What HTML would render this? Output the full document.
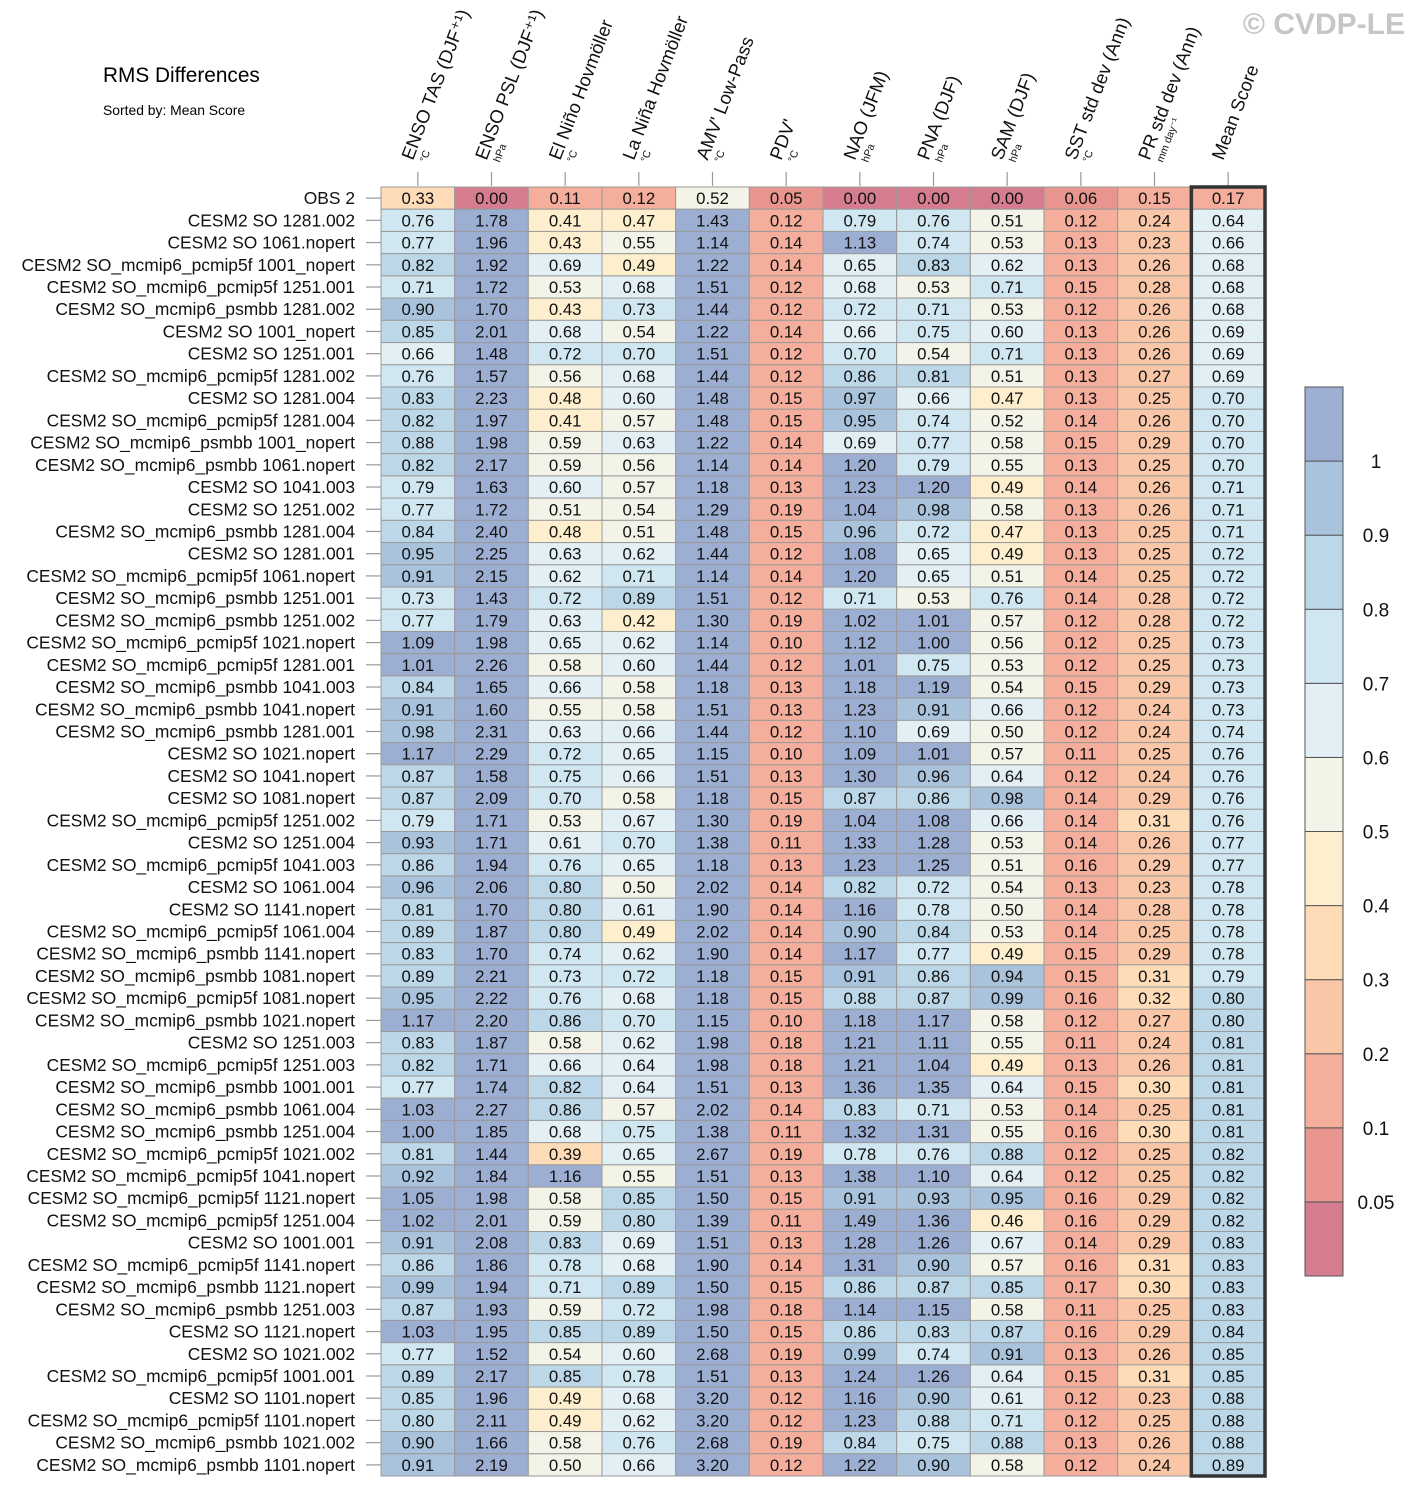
<!DOCTYPE html>
<html><head><meta charset="utf-8"><style>
body{margin:0;background:#fff;}
svg{display:block;font-family:"Liberation Sans",Arial,sans-serif;}
</style></head><body>
<svg id="chart" width="1416" height="1498" viewBox="0 0 1416 1498" xmlns="http://www.w3.org/2000/svg">
<text x="103" y="82" font-size="20.8">RMS Differences</text>
<text x="103" y="115" font-size="13.9">Sorted by: Mean Score</text>
<text x="1405" y="34" font-size="30" font-weight="bold" fill="#c6c6c6" text-anchor="end">© CVDP-LE</text>
<g id="headers"></g><g id="cells"></g><g id="rowlabels"></g><g id="cbar"></g>
</svg>
<script>
const metrics=["ENSO TAS (DJF⁺¹)","ENSO PSL (DJF⁺¹)","El Niño Hovmöller","La Niña Hovmöller","AMV' Low-Pass","PDV'","NAO (JFM)","PNA (DJF)","SAM (DJF)","SST std dev (Ann)","PR std dev (Ann)","Mean Score"];
const units=["°C","hPa","°C","°C","°C","°C","hPa","hPa","hPa","°C","mm day⁻¹",""];
const runs=["OBS 2","CESM2 SO 1281.002","CESM2 SO 1061.nopert","CESM2 SO_mcmip6_pcmip5f 1001_nopert","CESM2 SO_mcmip6_pcmip5f 1251.001","CESM2 SO_mcmip6_psmbb 1281.002","CESM2 SO 1001_nopert","CESM2 SO 1251.001","CESM2 SO_mcmip6_pcmip5f 1281.002","CESM2 SO 1281.004","CESM2 SO_mcmip6_pcmip5f 1281.004","CESM2 SO_mcmip6_psmbb 1001_nopert","CESM2 SO_mcmip6_psmbb 1061.nopert","CESM2 SO 1041.003","CESM2 SO 1251.002","CESM2 SO_mcmip6_psmbb 1281.004","CESM2 SO 1281.001","CESM2 SO_mcmip6_pcmip5f 1061.nopert","CESM2 SO_mcmip6_psmbb 1251.001","CESM2 SO_mcmip6_psmbb 1251.002","CESM2 SO_mcmip6_pcmip5f 1021.nopert","CESM2 SO_mcmip6_pcmip5f 1281.001","CESM2 SO_mcmip6_psmbb 1041.003","CESM2 SO_mcmip6_psmbb 1041.nopert","CESM2 SO_mcmip6_psmbb 1281.001","CESM2 SO 1021.nopert","CESM2 SO 1041.nopert","CESM2 SO 1081.nopert","CESM2 SO_mcmip6_pcmip5f 1251.002","CESM2 SO 1251.004","CESM2 SO_mcmip6_pcmip5f 1041.003","CESM2 SO 1061.004","CESM2 SO 1141.nopert","CESM2 SO_mcmip6_pcmip5f 1061.004","CESM2 SO_mcmip6_psmbb 1141.nopert","CESM2 SO_mcmip6_psmbb 1081.nopert","CESM2 SO_mcmip6_pcmip5f 1081.nopert","CESM2 SO_mcmip6_psmbb 1021.nopert","CESM2 SO 1251.003","CESM2 SO_mcmip6_pcmip5f 1251.003","CESM2 SO_mcmip6_psmbb 1001.001","CESM2 SO_mcmip6_psmbb 1061.004","CESM2 SO_mcmip6_psmbb 1251.004","CESM2 SO_mcmip6_pcmip5f 1021.002","CESM2 SO_mcmip6_pcmip5f 1041.nopert","CESM2 SO_mcmip6_pcmip5f 1121.nopert","CESM2 SO_mcmip6_pcmip5f 1251.004","CESM2 SO 1001.001","CESM2 SO_mcmip6_pcmip5f 1141.nopert","CESM2 SO_mcmip6_psmbb 1121.nopert","CESM2 SO_mcmip6_psmbb 1251.003","CESM2 SO 1121.nopert","CESM2 SO 1021.002","CESM2 SO_mcmip6_pcmip5f 1001.001","CESM2 SO 1101.nopert","CESM2 SO_mcmip6_pcmip5f 1101.nopert","CESM2 SO_mcmip6_psmbb 1021.002","CESM2 SO_mcmip6_psmbb 1101.nopert"];
const values=[
[.33,0,.11,.12,.52,.05,0,0,0,.06,.15,.17],
[.76,1.78,.41,.47,1.43,.12,.79,.76,.51,.12,.24,.64],
[.77,1.96,.43,.55,1.14,.14,1.13,.74,.53,.13,.23,.66],
[.82,1.92,.69,.49,1.22,.14,.65,.83,.62,.13,.26,.68],
[.71,1.72,.53,.68,1.51,.12,.68,.53,.71,.15,.28,.68],
[.90,1.70,.43,.73,1.44,.12,.72,.71,.53,.12,.26,.68],
[.85,2.01,.68,.54,1.22,.14,.66,.75,.60,.13,.26,.69],
[.66,1.48,.72,.70,1.51,.12,.70,.54,.71,.13,.26,.69],
[.76,1.57,.56,.68,1.44,.12,.86,.81,.51,.13,.27,.69],
[.83,2.23,.48,.60,1.48,.15,.97,.66,.47,.13,.25,.70],
[.82,1.97,.41,.57,1.48,.15,.95,.74,.52,.14,.26,.70],
[.88,1.98,.59,.63,1.22,.14,.69,.77,.58,.15,.29,.70],
[.82,2.17,.59,.56,1.14,.14,1.20,.79,.55,.13,.25,.70],
[.79,1.63,.60,.57,1.18,.13,1.23,1.20,.49,.14,.26,.71],
[.77,1.72,.51,.54,1.29,.19,1.04,.98,.58,.13,.26,.71],
[.84,2.40,.48,.51,1.48,.15,.96,.72,.47,.13,.25,.71],
[.95,2.25,.63,.62,1.44,.12,1.08,.65,.49,.13,.25,.72],
[.91,2.15,.62,.71,1.14,.14,1.20,.65,.51,.14,.25,.72],
[.73,1.43,.72,.89,1.51,.12,.71,.53,.76,.14,.28,.72],
[.77,1.79,.63,.42,1.30,.19,1.02,1.01,.57,.12,.28,.72],
[1.09,1.98,.65,.62,1.14,.10,1.12,1.00,.56,.12,.25,.73],
[1.01,2.26,.58,.60,1.44,.12,1.01,.75,.53,.12,.25,.73],
[.84,1.65,.66,.58,1.18,.13,1.18,1.19,.54,.15,.29,.73],
[.91,1.60,.55,.58,1.51,.13,1.23,.91,.66,.12,.24,.73],
[.98,2.31,.63,.66,1.44,.12,1.10,.69,.50,.12,.24,.74],
[1.17,2.29,.72,.65,1.15,.10,1.09,1.01,.57,.11,.25,.76],
[.87,1.58,.75,.66,1.51,.13,1.30,.96,.64,.12,.24,.76],
[.87,2.09,.70,.58,1.18,.15,.87,.86,.98,.14,.29,.76],
[.79,1.71,.53,.67,1.30,.19,1.04,1.08,.66,.14,.31,.76],
[.93,1.71,.61,.70,1.38,.11,1.33,1.28,.53,.14,.26,.77],
[.86,1.94,.76,.65,1.18,.13,1.23,1.25,.51,.16,.29,.77],
[.96,2.06,.80,.50,2.02,.14,.82,.72,.54,.13,.23,.78],
[.81,1.70,.80,.61,1.90,.14,1.16,.78,.50,.14,.28,.78],
[.89,1.87,.80,.49,2.02,.14,.90,.84,.53,.14,.25,.78],
[.83,1.70,.74,.62,1.90,.14,1.17,.77,.49,.15,.29,.78],
[.89,2.21,.73,.72,1.18,.15,.91,.86,.94,.15,.31,.79],
[.95,2.22,.76,.68,1.18,.15,.88,.87,.99,.16,.32,.80],
[1.17,2.20,.86,.70,1.15,.10,1.18,1.17,.58,.12,.27,.80],
[.83,1.87,.58,.62,1.98,.18,1.21,1.11,.55,.11,.24,.81],
[.82,1.71,.66,.64,1.98,.18,1.21,1.04,.49,.13,.26,.81],
[.77,1.74,.82,.64,1.51,.13,1.36,1.35,.64,.15,.30,.81],
[1.03,2.27,.86,.57,2.02,.14,.83,.71,.53,.14,.25,.81],
[1.00,1.85,.68,.75,1.38,.11,1.32,1.31,.55,.16,.30,.81],
[.81,1.44,.39,.65,2.67,.19,.78,.76,.88,.12,.25,.82],
[.92,1.84,1.16,.55,1.51,.13,1.38,1.10,.64,.12,.25,.82],
[1.05,1.98,.58,.85,1.50,.15,.91,.93,.95,.16,.29,.82],
[1.02,2.01,.59,.80,1.39,.11,1.49,1.36,.46,.16,.29,.82],
[.91,2.08,.83,.69,1.51,.13,1.28,1.26,.67,.14,.29,.83],
[.86,1.86,.78,.68,1.90,.14,1.31,.90,.57,.16,.31,.83],
[.99,1.94,.71,.89,1.50,.15,.86,.87,.85,.17,.30,.83],
[.87,1.93,.59,.72,1.98,.18,1.14,1.15,.58,.11,.25,.83],
[1.03,1.95,.85,.89,1.50,.15,.86,.83,.87,.16,.29,.84],
[.77,1.52,.54,.60,2.68,.19,.99,.74,.91,.13,.26,.85],
[.89,2.17,.85,.78,1.51,.13,1.24,1.26,.64,.15,.31,.85],
[.85,1.96,.49,.68,3.20,.12,1.16,.90,.61,.12,.23,.88],
[.80,2.11,.49,.62,3.20,.12,1.23,.88,.71,.12,.25,.88],
[.90,1.66,.58,.76,2.68,.19,.84,.75,.88,.13,.26,.88],
[.91,2.19,.50,.66,3.20,.12,1.22,.90,.58,.12,.24,.89]];
const levels=[0.05,0.1,0.2,0.3,0.4,0.5,0.6,0.7,0.8,0.9,1];
const levelLabels=["0.05","0.1","0.2","0.3","0.4","0.5","0.6","0.7","0.8","0.9","1"];
const palette=["#d57d8e","#e8958f","#f4ae9b","#f9c7a8","#fddcb7","#fdeecd","#f3f3e8","#e2eff4","#d0e6f0","#bcd7e8","#a9c3dd","#9daed3"];

const NS="http://www.w3.org/2000/svg";
const X0=381,X1=1265,Y0=187,Y1=1476;
const cw=(X1-X0)/metrics.length, rh=(Y1-Y0)/runs.length;
const xPos=i=>X0+i*cw, yPos=j=>Y0+j*rh;
function colorOf(v){let k=0;while(k<levels.length&&v>=levels[k]-1e-9)k++;return palette[k];}
function mk(tag,attrs,parent){const e=document.createElementNS(NS,tag);for(const a in attrs)e.setAttribute(a,attrs[a]);parent.appendChild(e);return e;}

const cells=document.getElementById('cells');
values.forEach((row,j)=>row.forEach((v,i)=>{
  const r=mk('rect',{x:xPos(i),y:yPos(j),width:cw,height:rh,fill:colorOf(v),stroke:'#9a9a9a','stroke-width':1},cells);
  
  
  const t=mk('text',{x:xPos(i)+cw/2,y:yPos(j)+rh/2+6,'font-size':16.8,'text-anchor':'middle',fill:'#111'},cells);
  t.textContent=v.toFixed(2);
  
  
}));
const box=mk('rect',{x:xPos(11),y:Y0,width:cw,height:Y1-Y0,fill:'none',stroke:'#333','stroke-width':3.5},cells);



const rl=document.getElementById('rowlabels');
runs.forEach((n,j)=>{
  const t=mk('text',{x:355,y:yPos(j)+rh/2+6,'font-size':17.4,'text-anchor':'end',fill:'#111'},rl);
  t.textContent=n;
  
  
  const tk=mk('line',{x1:366,x2:381,y1:yPos(j)+rh/2,y2:yPos(j)+rh/2,stroke:'#999','stroke-width':1.2},rl);
  
  
});

const hd=document.getElementById('headers');
metrics.forEach((m,i)=>{
  const cx=xPos(i)+cw/2;
  const tk=mk('line',{x1:cx,x2:cx,y1:172,y2:186,stroke:'#999','stroke-width':1.2},hd);
  
  
  const g=mk('g',{transform:`translate(${cx-5},161) rotate(-69)`},hd);
  
  
  const t=mk('text',{x:0,y:0,'font-size':18.5,fill:'#111'},g);
  t.textContent=m;
  if(units[i]){
    const u=mk('text',{x:3,y:13,'font-size':10.5,fill:'#111'},g);
    u.textContent=units[i];
    
    
  }
});

const cb=document.getElementById('cbar');
const CB0=387,CB1=1276,cbx=1305,cbw=38,bh=(CB1-CB0)/palette.length;
palette.forEach((c,k)=>{
  const r=mk('rect',{x:cbx,y:CB1-(k+1)*bh,width:cbw,height:bh,fill:c,stroke:'#555','stroke-width':1},cb);
  
  
});
levelLabels.forEach((l,k)=>{
  const t=mk('text',{x:1376,y:CB1-(k+1)*bh+7,'font-size':19,'text-anchor':'middle',fill:'#111'},cb);
  t.textContent=l;
  
  
});
</script>
</body></html>
